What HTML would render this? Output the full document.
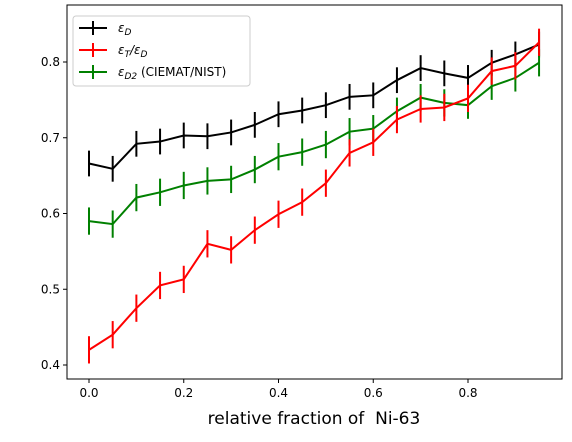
<!DOCTYPE html>
<html><head><meta charset="utf-8"><style>body{margin:0;background:#fff}svg{font-family:"DejaVu Sans","Liberation Sans",sans-serif}</style></head>
<body>
<svg id="c" width="572" height="437" xmlns="http://www.w3.org/2000/svg"></svg>
<script>
const xs=[0,0.05,0.1,0.15,0.2,0.25,0.3,0.35,0.4,0.45,0.5,0.55,0.6,0.65,0.7,0.75,0.8,0.85,0.9,0.95];
const epsD=[0.666,0.659,0.692,0.695,0.703,0.702,0.707,0.717,0.731,0.736,0.743,0.754,0.756,0.776,0.792,0.785,0.779,0.799,0.81,0.823];
const epsTD=[0.420,0.440,0.475,0.505,0.513,0.560,0.552,0.578,0.599,0.615,0.640,0.680,0.694,0.724,0.738,0.740,0.752,0.788,0.795,0.826];
const epsD2=[0.590,0.586,0.621,0.628,0.637,0.643,0.645,0.658,0.675,0.681,0.691,0.708,0.712,0.735,0.753,0.746,0.743,0.768,0.779,0.799];
const errD=0.017, errTD=0.018, errD2=0.018;
const xTicks=[0,0.2,0.4,0.6,0.8], yTicks=[0.4,0.5,0.6,0.7,0.8];
const X=v=>89+v*473.75, Y=v=>62+(0.8-v)*757.5;
const s=document.getElementById('c'),NS='http://www.w3.org/2000/svg';
function el(t,a,p){const e=document.createElementNS(NS,t);for(const k in a)e.setAttribute(k,a[k]);(p||s).appendChild(e);return e;}
const ax=el('rect',{x:67,y:5,width:495,height:374,fill:'none',stroke:'#000','stroke-width':1});


xTicks.forEach(t=>{const g=el('g',{});


el('line',{x1:X(t),x2:X(t),y1:379,y2:383,stroke:'#000'},g);
const tx=el('text',{x:X(t),y:397,'font-size':12,'text-anchor':'middle'},g);tx.textContent=t.toFixed(1);});
yTicks.forEach(t=>{const g=el('g',{});


el('line',{x1:63,x2:67,y1:Y(t),y2:Y(t),stroke:'#000'},g);
const tx=el('text',{x:60,y:Y(t)+4,'font-size':12,'text-anchor':'end'},g);tx.textContent=t.toFixed(1);});
const xl=el('text',{x:314,y:424,'font-size':17,'text-anchor':'middle'});xl.textContent='relative fraction of\u00a0\u00a0Ni-63';


function series(vals,err,col,name){const g=el('g',{});


el('polyline',{points:xs.map((x,i)=>X(x)+','+Y(vals[i])).join(' '),fill:'none',stroke:col,'stroke-width':2},g);
xs.forEach((x,i)=>el('line',{x1:X(x),x2:X(x),y1:Y(vals[i]-err),y2:Y(vals[i]+err),stroke:col,'stroke-width':2},g));}
series(epsD,errD,'#000','series-eps-d');
series(epsD2,errD2,'#008000','series-eps-d2');
series(epsTD,errTD,'#f00','series-eps-t-over-d');
const lg=el('g',{});


el('rect',{x:73,y:16,width:177,height:70,rx:3,fill:'#fff','fill-opacity':0.8,stroke:'#ccc'},lg);
const sub=t=>'<tspan font-style="italic" dy="3" font-size="9">'+t+'</tspan><tspan dy="-3"> </tspan>';
[['#000','<tspan font-style="italic">ε</tspan>'+sub('D')],['#f00','<tspan font-style="italic">ε</tspan>'+'<tspan font-style="italic" dy="3" font-size="9">T</tspan><tspan dy="-3" font-style="italic">/ε</tspan>'+'<tspan font-style="italic" dy="3" font-size="9">D</tspan>'],['#008000','<tspan font-style="italic">ε</tspan><tspan font-style="italic" dy="3" font-size="9">D2</tspan><tspan dy="-3"> (CIEMAT/NIST)</tspan>']].forEach((e,i)=>{
const y=28+i*22;const g=el('g',{},lg);


el('line',{x1:79,x2:107,y1:y,y2:y,stroke:e[0],'stroke-width':2},g);
el('line',{x1:93,x2:93,y1:y-7,y2:y+7,stroke:e[0],'stroke-width':2},g);
const t=el('text',{x:118,y:y+4,'font-size':12},g);t.innerHTML=e[1];});
</script>
</body></html>
